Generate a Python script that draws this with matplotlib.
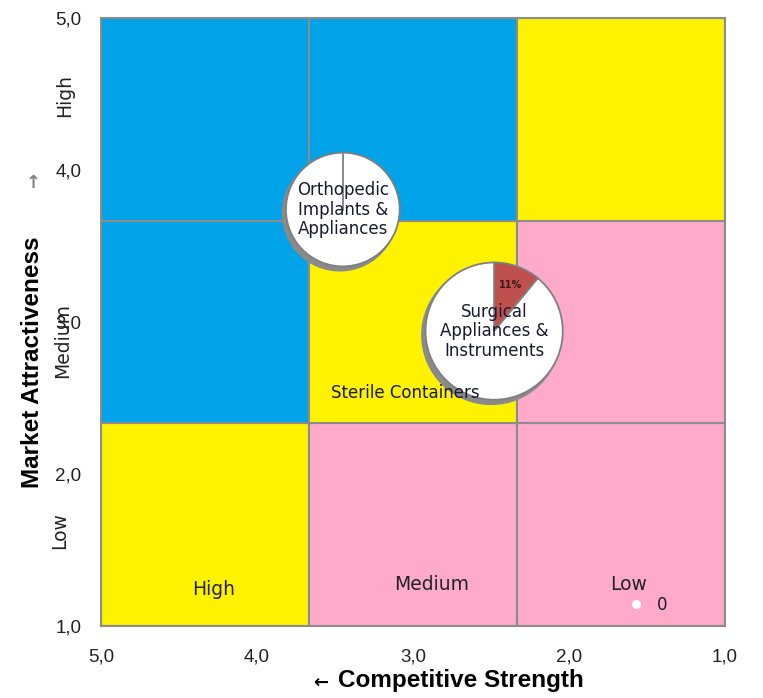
import numpy as np
import matplotlib
matplotlib.use("Agg")
import matplotlib.pyplot as plt
from matplotlib.patches import Rectangle

OUTPUT_PNG = "out.png"

# matrix grid: competitive strength (x, reversed) vs market attractiveness (y)
X_EDGES = [5.0, 3.667, 2.333, 1.0]
Y_EDGES = [1.0, 2.333, 3.667, 5.0]
BLUE, YELLOW, PINK = "#00A2E8", "#FFF200", "#FFAAC8"
# rows from bottom to top, columns from left (strong) to right (weak)
CELL_COLORS = [
    [YELLOW, PINK, PINK],
    [BLUE, YELLOW, PINK],
    [BLUE, BLUE, YELLOW],
]

TICKS = [5.0, 4.0, 3.0, 2.0, 1.0]
TICK_LABELS = ["5,0", "4,0", "3,0", "2,0", "1,0"]

# business segments shown as pies: position and share of growth
PIE_NAMES = ["Orthopedic\nImplants &\nAppliances", "Surgical\nAppliances &\nInstruments"]
PIE_X = [3.45, 2.48]
PIE_Y = [3.74, 2.94]
PIE_SHARE = [0, 11]
PIE_RADIUS_PX = [58, 70]

SMALL_NAMES = ["Sterile Containers"]
SMALL_X = [3.05]
SMALL_Y = [2.53]

ZERO_X, ZERO_Y, ZERO_LABEL = 1.57, 1.145, "0"

fig = plt.figure(figsize=(7.63, 6.98), dpi=100)
ax = fig.add_axes([101 / 763, 1 - 626 / 698, 624 / 763, 608 / 698])
ax.set_xlim(5, 1)
ax.set_ylim(1, 5)

for r in range(3):
    for c in range(3):
        x0, x1 = X_EDGES[c], X_EDGES[c + 1]
        y0, y1 = Y_EDGES[r], Y_EDGES[r + 1]
        ax.add_patch(Rectangle((x1, y0), x0 - x1, y1 - y0,
                               facecolor=CELL_COLORS[r][c], edgecolor="#8C8C8C",
                               linewidth=1.5, zorder=1))

for s in ax.spines.values():
    s.set_color("#8C8C8C")
    s.set_linewidth(1.5)

ax.set_xticks(TICKS)
ax.set_xticklabels(TICK_LABELS)
ax.set_yticks(TICKS)
ax.set_yticklabels(TICK_LABELS)
ax.tick_params(axis="both", length=0, labelsize=13.5, colors="#222222")
ax.tick_params(axis="x", pad=16)
ax.tick_params(axis="y", pad=14)
for lbl in ax.get_xticklabels() + ax.get_yticklabels():
    lbl.set_family("Liberation Sans")

# zone labels inside bottom row / left of the axis
lbl_kw = dict(fontsize=13.5, color="#222222", ha="center", va="center", zorder=5)
ax.text(4.28, 1.24, "High", **lbl_kw)
ax.text(2.88, 1.27, "Medium", **lbl_kw)
ax.text(1.62, 1.27, "Low", **lbl_kw)
ytr = ax.get_yaxis_transform()
ax.text(-0.058, 4.49, "High", rotation=90, transform=ytr, clip_on=False, **lbl_kw)
ax.text(-0.062, 2.88, "Medium", rotation=90, transform=ytr, clip_on=False, **lbl_kw)
ax.text(-0.066, 1.63, "Low", rotation=90, transform=ytr, clip_on=False, **lbl_kw)

ax.scatter([ZERO_X], [ZERO_Y], s=30, color="white", zorder=5)
ax.text(ZERO_X - 0.17, ZERO_Y - 0.01, ZERO_LABEL, fontsize=12, color="#1a1a2e",
        ha="center", va="center", zorder=5)

# axis titles
fig.text(33 / 763, 1 - 362 / 698, "Market Attractiveness", rotation=90,
         family="Liberation Sans", fontweight="bold", fontsize=17.5,
         ha="center", va="center")
fig.text(33 / 763, 1 - 183 / 698, "\u2191", family="DejaVu Sans", fontweight="bold",
         fontsize=13, color="#808080", ha="center", va="center")
fig.text(461 / 763, 1 - 681 / 698, "Competitive Strength",
         family="Liberation Sans", fontweight="bold", fontsize=17.5,
         ha="center", va="center")
fig.text(321 / 763, 1 - 683 / 698, "\u2190", family="DejaVu Sans", fontweight="bold",
         fontsize=13, ha="center", va="center")

# pies on their own small axes, placed from data coordinates
to_fig = fig.transFigure.inverted()
W, H = fig.bbox.width, fig.bbox.height
for name, x, y, share, rpx in zip(PIE_NAMES, PIE_X, PIE_Y, PIE_SHARE, PIE_RADIUS_PX):
    cx, cy = ax.transData.transform((x, y))
    # soft grey shadow
    sx, sy = to_fig.transform((cx - 3 - rpx, cy - 4 - rpx))
    sh = fig.add_axes([sx, sy, 2 * rpx / W, 2 * rpx / H])
    sh.pie([1], colors=["#8a8a8a"], radius=1.0, wedgeprops=dict(linewidth=0))
    sh.set_xlim(-1, 1)
    sh.set_ylim(-1, 1)
    sh.axis("off")

    fx, fy = to_fig.transform((cx - rpx, cy - rpx))
    pa = fig.add_axes([fx, fy, 2 * rpx / W, 2 * rpx / H])
    pa.pie([share, 100 - share], colors=["#C0504D", "white"], startangle=90,
           counterclock=False, radius=1.0,
           wedgeprops=dict(edgecolor="#7f7f7f", linewidth=1.3))
    if share == 0:
        # zero-size slice still shows its edge
        pa.plot([0, 0], [0, 1], color="#7f7f7f", linewidth=1.3)
    pa.set_xlim(-1.02, 1.02)
    pa.set_ylim(-1.02, 1.02)
    pa.axis("off")
    pa.text(0, 0, name, fontsize=12, color="#1a1a2e", ha="center", va="center",
            linespacing=1.1)
    if share > 0:
        ang = np.deg2rad(90 - share / 100 * 180)
        pa.text(0.72 * np.cos(ang), 0.72 * np.sin(ang), f"{share}%", fontsize=7,
                fontweight="bold", color="#3a1a1a", ha="center", va="center")

# small segments without a pie, labelled on top of everything
for name, x, y in zip(SMALL_NAMES, SMALL_X, SMALL_Y):
    fig.text(x, y, name, transform=ax.transData, fontsize=12, color="#1a1a2e",
             ha="center", va="center", zorder=10)

plt.savefig(OUTPUT_PNG, dpi=100)
